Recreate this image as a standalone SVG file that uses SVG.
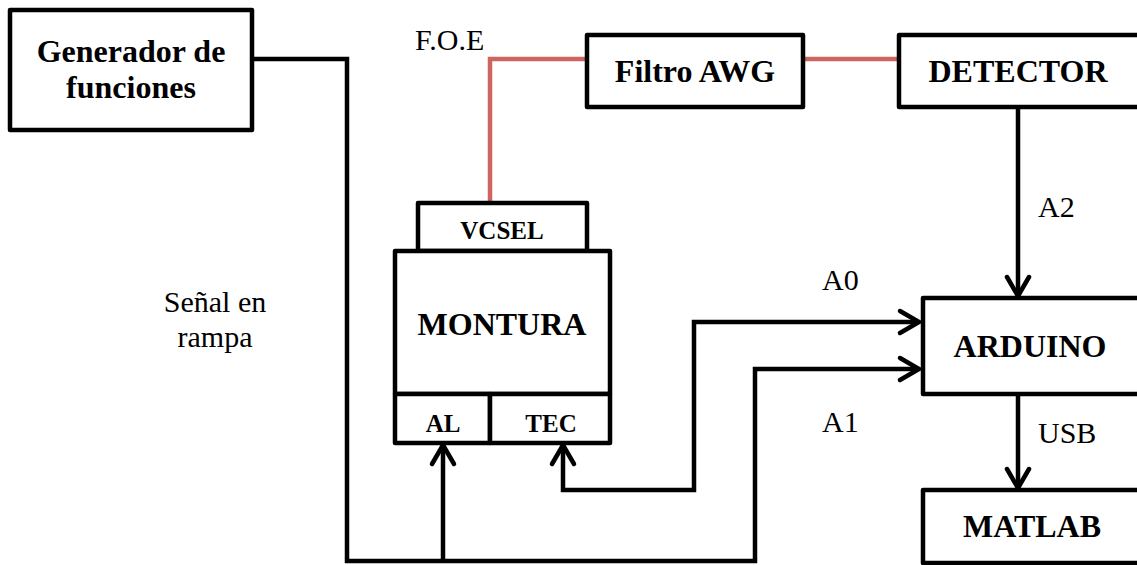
<svg xmlns="http://www.w3.org/2000/svg" width="1137" height="565" viewBox="0 0 1137 565">
<style>
.box{fill:#fff;stroke:#000;stroke-width:4.5;stroke-linejoin:round}
.wire{fill:none;stroke:#000;stroke-width:4.5;stroke-linejoin:miter}
.fiber{fill:none;stroke:#cd6660;stroke-width:4.5}
.b{font-family:"Liberation Serif","Times New Roman",serif;font-weight:bold;text-anchor:middle;fill:#000}
.big{font-size:32px}
.sm{font-size:25px}
.n{font-family:"Liberation Serif","Times New Roman",serif;font-size:30px;fill:#000}
</style>
<defs>
<marker id="arr" markerUnits="userSpaceOnUse" markerWidth="30" markerHeight="30" viewBox="-25 -15 30 30" refX="0" refY="0" orient="auto-start-reverse">
<path d="M-19,-11 L0,0 L-19,11" fill="none" stroke="#000" stroke-width="4.5" stroke-linecap="round" stroke-linejoin="miter"/>
</marker>
</defs>
<g id="connectors">
<path class="fiber" d="M490,203 V59 H587"/>
<path class="fiber" d="M803,59 H899"/>
<path class="wire" d="M252,59 H347 V561 H755 V369 H919" marker-end="url(#arr)"/>
<path class="wire" d="M443,561 V445" marker-end="url(#arr)"/>
<path class="wire" d="M563,445 V490 H694 V322 H919" marker-start="url(#arr)" marker-end="url(#arr)"/>
<path class="wire" d="M1018,107 V296" marker-end="url(#arr)"/>
<path class="wire" d="M1018,394 V488" marker-end="url(#arr)"/>
</g>
<g id="generador">
<rect class="box" x="10" y="10" width="242" height="120"/>
<text class="b big" x="131" y="62">Generador de</text>
<text class="b big" x="131" y="98">funciones</text>
</g>
<g id="filtro">
<rect class="box" x="587" y="35" width="216" height="72"/>
<text class="b big" x="695" y="82">Filtro AWG</text>
</g>
<g id="detector">
<rect class="box" x="899" y="35" width="250" height="72"/>
<text class="b big" x="1018" y="82">DETECTOR</text>
</g>
<g id="vcsel">
<rect class="box" x="418" y="203" width="169" height="48"/>
<text class="b sm" x="502" y="239">VCSEL</text>
</g>
<g id="montura">
<rect class="box" x="395" y="251" width="215" height="143"/>
<text class="b big" x="502" y="335">MONTURA</text>
</g>
<g id="al">
<rect class="box" x="395" y="394" width="95" height="49"/>
<text class="b sm" x="443" y="432">AL</text>
</g>
<g id="tec">
<rect class="box" x="490" y="394" width="120" height="49"/>
<text class="b sm" x="551" y="432">TEC</text>
</g>
<g id="arduino">
<rect class="box" x="923" y="298" width="230" height="96"/>
<text class="b big" x="1030" y="357">ARDUINO</text>
</g>
<g id="matlab">
<rect class="box" x="923" y="490" width="230" height="73"/>
<text class="b big" x="1032" y="537">MATLAB</text>
</g>
<g id="labels">
<text class="n" x="415" y="50">F.O.E</text>
<text class="n" x="1038" y="217">A2</text>
<text class="n" x="822" y="290">A0</text>
<text class="n" x="822" y="432">A1</text>
<text class="n" x="1038" y="443">USB</text>
<text class="n" x="215" y="312" text-anchor="middle">Señal en</text>
<text class="n" x="215" y="347" text-anchor="middle">rampa</text>
</g>
</svg>
